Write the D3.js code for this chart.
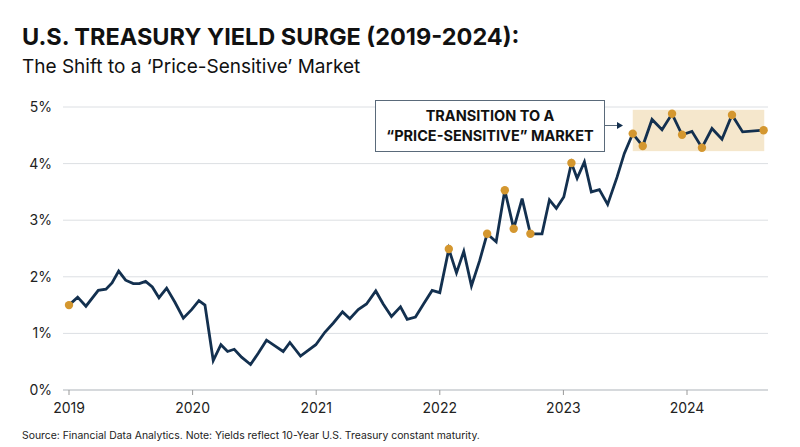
<!DOCTYPE html>
<html><head><meta charset="utf-8">
<script src="https://cdn.jsdelivr.net/npm/d3@7"></script>
<style>body{margin:0;background:#fff;font-family:Inter,"Noto Sans",sans-serif;}</style>
</head><body><svg id="c" width="800" height="447"></svg>
<script>
// decimal-year dates and 10-year yields (%)
var dates = [2019.000,2019.070,2019.137,2019.237,2019.299,2019.348,2019.402,2019.458,2019.520,2019.569,2019.620,2019.674,2019.728,2019.790,2019.857,2019.925,2019.992,
  2020.051,2020.100,2020.167,2020.229,2020.283,2020.337,2020.396,2020.469,2020.531,2020.598,2020.666,2020.733,2020.787,2020.873,2020.935,2020.997,
  2021.070,2021.137,2021.213,2021.272,2021.340,2021.407,2021.482,2021.542,2021.609,2021.682,2021.736,2021.803,2021.871,2021.938,
  2022.000,2022.073,2022.135,2022.194,2022.256,2022.323,2022.383,2022.456,2022.526,2022.598,2022.666,2022.733,2022.827,2022.887,2022.943,
  2023.003,2023.065,2023.111,2023.170,2023.226,2023.291,2023.358,2023.434,2023.493,2023.561,2023.642,2023.717,2023.798,2023.879,2023.960,
  2024.040,2024.121,2024.202,2024.283,2024.364,2024.450,2024.620];
var yields = [1.50,1.64,1.48,1.76,1.78,1.89,2.10,1.94,1.88,1.88,1.92,1.82,1.63,1.80,1.55,1.27,1.42,
  1.58,1.50,0.52,0.80,0.68,0.72,0.58,0.45,0.65,0.88,0.78,0.68,0.84,0.60,0.70,0.80,
  1.02,1.18,1.38,1.26,1.42,1.52,1.75,1.52,1.30,1.47,1.25,1.29,1.53,1.76,
  1.72,2.49,2.07,2.45,1.84,2.29,2.76,2.62,3.53,2.85,3.38,2.76,2.76,3.36,3.21,
  3.41,4.01,3.74,4.03,3.50,3.54,3.28,3.76,4.18,4.53,4.31,4.78,4.60,4.88,4.51,
  4.57,4.28,4.62,4.43,4.86,4.56,4.59];
// indices of highlighted points
var markers = [0,48,53,55,56,58,63,71,72,75,76,78,81,83];
var yTicks = [0,1,2,3,4,5];
var xTicks = [2019,2020,2021,2022,2023,2024];
var band = {x0: 2023.561, x1: 2024.625, y0: 4.22, y1: 4.95};

var svg = d3.select('#c');
var navy = '#13304f', gold = '#d4972f';
var x = d3.scaleLinear().domain([2019, 2024]).range([69, 687]);
var y = d3.scaleLinear().domain([0, 5]).range([390, 107]);
var data = dates.map(function(d, i) { return {t: d, v: yields[i]}; });

svg.append('text').attr('x', 22).attr('y', 45).attr('font-size', 23.5).attr('font-weight', 700)
  .attr('fill', '#111').text('U.S. TREASURY YIELD SURGE (2019-2024):');
svg.append('text').attr('x', 22).attr('y', 73).attr('font-size', 19)
  .attr('fill', '#111').text('The Shift to a \u2018Price-Sensitive\u2019 Market');

// grid
svg.append('g').selectAll('line').data(yTicks.slice(1)).enter().append('line')
  .attr('x1', 63).attr('x2', 768).attr('y1', y).attr('y2', y)
  .attr('stroke', '#dcdfe3').attr('stroke-width', 1);
svg.append('g').selectAll('text').data(yTicks).enter().append('text')
  .attr('x', 52).attr('y', function(d) { return y(d) + 5; }).attr('text-anchor', 'end')
  .attr('font-size', 14).attr('fill', '#222').text(function(d) { return d + '%'; });

// x axis
svg.append('line').attr('x1', 63).attr('x2', 768).attr('y1', y(0)).attr('y2', y(0))
  .attr('stroke', '#c9ccd0').attr('stroke-width', 1.5);
var xa = svg.append('g').selectAll('g').data(xTicks).enter().append('g');
xa.append('line').attr('x1', x).attr('x2', x).attr('y1', y(0)).attr('y2', y(0) + 5).attr('stroke', '#999');
xa.append('text').attr('x', x).attr('y', 413).attr('text-anchor', 'middle')
  .attr('font-size', 14).attr('fill', '#222').text(function(d) { return d; });

// highlight band
svg.append('rect').attr('x', x(band.x0)).attr('y', y(band.y1))
  .attr('width', x(band.x1) - x(band.x0)).attr('height', y(band.y0) - y(band.y1))
  .attr('fill', '#f5e7cc');

// line
svg.append('path').datum(data)
  .attr('d', d3.line().x(function(d) { return x(d.t); }).y(function(d) { return y(d.v); }))
  .attr('fill', 'none').attr('stroke', navy).attr('stroke-width', 2.8).attr('stroke-linejoin', 'miter');
svg.append('g').selectAll('circle').data(markers).enter().append('circle')
  .attr('cx', function(i) { return x(data[i].t); }).attr('cy', function(i) { return y(data[i].v); })
  .attr('r', 4.2).attr('fill', gold);

// annotation
svg.append('rect').attr('x', 375.5).attr('y', 100.5).attr('width', 229).attr('height', 51)
  .attr('fill', '#fff').attr('stroke', '#5a6a7a').attr('stroke-width', 1);
svg.append('text').attr('x', 490).attr('y', 121).attr('text-anchor', 'middle').attr('font-size', 14.5)
  .attr('font-weight', 700).attr('fill', '#111').text('TRANSITION TO A');
svg.append('text').attr('x', 490).attr('y', 141).attr('text-anchor', 'middle').attr('font-size', 14.5)
  .attr('font-weight', 700).attr('fill', '#111').text('\u201CPRICE-SENSITIVE\u201D MARKET');
svg.append('line').attr('x1', 605).attr('x2', 618).attr('y1', 125.5).attr('y2', 125.5)
  .attr('stroke', '#5a6a7a').attr('stroke-width', 1);
svg.append('path').attr('d', 'M617,122 L623,125.5 L617,129 Z').attr('fill', navy);

svg.append('text').attr('x', 22).attr('y', 439).attr('font-size', 10.4).attr('fill', '#222')
  .text('Source: Financial Data Analytics. Note: Yields reflect 10-Year U.S. Treasury constant maturity.');
</script></body></html>
